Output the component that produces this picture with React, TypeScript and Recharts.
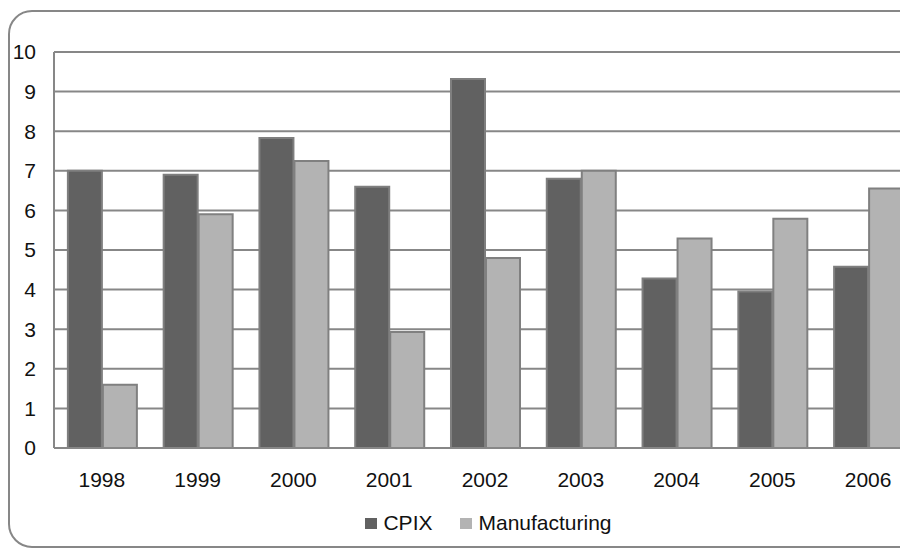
import { BarChart, Bar, XAxis, YAxis, CartesianGrid, Legend } from 'recharts'

const years = ['1998', '1999', '2000', '2001', '2002', '2003', '2004', '2005', '2006']
const cpix = [7.0, 6.9, 7.83, 6.6, 9.32, 6.8, 4.28, 3.95, 4.58]
const manufacturing = [1.6, 5.9, 7.25, 2.93, 4.8, 7.0, 5.29, 5.79, 6.55]
const yTicks = [0, 1, 2, 3, 4, 5, 6, 7, 8, 9, 10]

const data = years.map((year, i) => ({ year, cpix: cpix[i], manufacturing: manufacturing[i] }))

const font = '"Liberation Sans", Arial, sans-serif'
const lineGray = '#878787'
const textColor = '#111'

function LegendContent({ payload }: any) {
  return (
    <div style={{ display: 'flex', justifyContent: 'center', alignItems: 'center', height: 20, fontFamily: font, fontSize: 21, color: textColor }}>
      {(payload || []).map((p: any, i: number) => (
        <div key={p.value} style={{ display: 'flex', alignItems: 'center', marginLeft: i === 0 ? 0 : 28 }}>
          <span style={{ width: 12, height: 11, background: p.color, display: 'inline-block', marginRight: 6 }} />
          <span>{p.value}</span>
        </div>
      ))}
    </div>
  )
}

export default function App() {
  return (
    <div style={{ position: 'relative', width: 900, height: 540, overflow: 'hidden' }}>
      {/* rounded chart frame, runs past the right edge */}
      <div
        style={{
          position: 'absolute', left: 0, top: 2, width: 916, height: 538,
          border: `2px solid ${lineGray}`, borderRadius: 24, boxSizing: 'border-box',
        }}
      />
      <div style={{ position: 'absolute', left: 0, top: 0 }}>
        <BarChart
          width={925}
          height={540}
          data={data}
          margin={{ top: 44, right: 17, left: 0, bottom: 20 }}
          barCategoryGap="14.5%"
          barGap={1}
        >
          <CartesianGrid vertical={false} stroke={lineGray} strokeWidth={2} />
          <XAxis
            dataKey="year"
            height={60}
            tickLine={false}
            tickSize={0}
            tickMargin={24}
            axisLine={{ stroke: lineGray, strokeWidth: 2 }}
            tick={{ fill: textColor, fontSize: 21, fontFamily: font }}
          />
          <YAxis
            width={46}
            domain={[0, 10]}
            ticks={yTicks}
            interval={0}
            tickLine={false}
            tickSize={0}
            tickMargin={18}
            axisLine={{ stroke: lineGray, strokeWidth: 2 }}
            tick={{ fill: textColor, fontSize: 21, fontFamily: font }}
          />
          <Legend content={<LegendContent />} wrapperStyle={{ top: 505, left: 0, width: 961 }} />
          <Bar dataKey="cpix" name="CPIX" fill="#616161" stroke="#7f7f7f" strokeWidth={2} isAnimationActive={false} />
          <Bar dataKey="manufacturing" name="Manufacturing" fill="#b3b3b3" stroke="#808080" strokeWidth={2} isAnimationActive={false} />
        </BarChart>
      </div>
    </div>
  )
}
